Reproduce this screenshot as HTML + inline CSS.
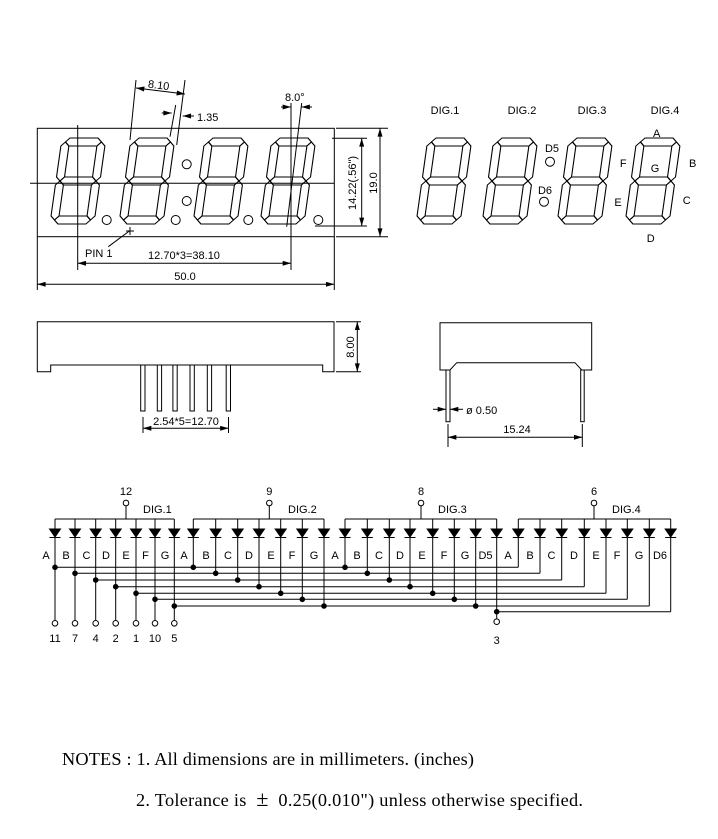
<!DOCTYPE html>
<html><head><meta charset="utf-8"><style>
html,body{margin:0;padding:0;background:#fff;}
svg{display:block;}
text{font-family:"Liberation Sans",sans-serif;fill:#000;}
.n{font-family:"Liberation Serif",serif;font-size:18.3px;}
</style></head><body>
<svg id="s" width="718" height="839" viewBox="0 0 718 839" xmlns="http://www.w3.org/2000/svg">
<defs>
<marker id="ar" viewBox="0 0 10 6" refX="10" refY="3" markerWidth="9" markerHeight="5" markerUnits="userSpaceOnUse" orient="auto-start-reverse"><path d="M0,0L10,3L0,6z" fill="#000"/></marker>
<g id="dg" fill="none" stroke="#000" stroke-width="1.1" stroke-linejoin="round">
<polygon points="4,4 8,0 36,0 40,4 36,8 8,8"/>
<polygon points="4,43 8,39 36,39 40,43 36,47 8,47"/>
<polygon points="4,82 8,78 36,78 40,82 36,86 8,86"/>
<polygon points="4,4 8,8 8,39 4,43 0,39 0,8"/>
<polygon points="40,4 44,8 44,39 40,43 36,39 36,8"/>
<polygon points="4,43 8,47 8,78 4,82 0,78 0,47"/>
<polygon points="40,43 44,47 44,78 40,82 36,78 36,47"/>
</g>
</defs>
<g fill="none" stroke="#000" stroke-width="1">
<rect x="37.3" y="128.3" width="297" height="108.4"/>
<line x1="30" y1="183.3" x2="334" y2="183.3"/>
<line x1="77.7" y1="125" x2="77.7" y2="270"/>
<line x1="291" y1="103" x2="291" y2="270"/>
<line x1="286.7" y1="226.7" x2="301.7" y2="103"/>
<line x1="37.3" y1="237" x2="37.3" y2="290"/>
<line x1="334.3" y1="237" x2="334.3" y2="290"/>
<line x1="37.3" y1="284.3" x2="334.3" y2="284.3" marker-start="url(#ar)" marker-end="url(#ar)"/>
<line x1="77.7" y1="263.3" x2="291" y2="263.3" marker-start="url(#ar)" marker-end="url(#ar)"/>
<line x1="336" y1="128.3" x2="388" y2="128.3"/>
<line x1="336" y1="236.7" x2="388" y2="236.7"/>
<line x1="380" y1="128.3" x2="380" y2="236.7" marker-start="url(#ar)" marker-end="url(#ar)"/>
<line x1="332" y1="138.3" x2="367" y2="138.3"/>
<line x1="315" y1="226" x2="367" y2="226"/>
<line x1="361.7" y1="138.3" x2="361.7" y2="226" marker-start="url(#ar)" marker-end="url(#ar)"/>
<line x1="130" y1="140" x2="136" y2="80"/>
<line x1="176.7" y1="145" x2="185" y2="80"/>
<line x1="136" y1="88" x2="185" y2="94" marker-start="url(#ar)" marker-end="url(#ar)"/>
<line x1="170" y1="136.7" x2="175.7" y2="105"/>
<line x1="161.7" y1="113" x2="171.7" y2="113" marker-end="url(#ar)"/>
<line x1="194" y1="116" x2="182.7" y2="116" marker-end="url(#ar)"/>
<line x1="281" y1="107" x2="291" y2="107" marker-end="url(#ar)"/>
<line x1="312" y1="107" x2="301.5" y2="107" marker-end="url(#ar)"/>
<line x1="108.3" y1="246.7" x2="130" y2="230.5"/>
<line x1="126" y1="231" x2="134" y2="231"/><line x1="130" y1="227" x2="130" y2="235"/>
<circle cx="186.7" cy="164.3" r="4.5"/><circle cx="186.7" cy="201" r="4.5"/>
<circle cx="106.7" cy="220" r="4.5"/><circle cx="175.7" cy="220" r="4.5"/>
<circle cx="248.3" cy="220" r="4.5"/><circle cx="318.3" cy="220" r="4.5"/>
<circle cx="550" cy="161.7" r="4.5"/><circle cx="544" cy="201.7" r="4.5"/>
<path d="M37.3,321.7H334V371.7H322.7V365H50.7V371.7H37.3Z"/>
<rect x="140.7" y="365" width="4.3" height="46"/>
<rect x="157.3" y="365" width="4.3" height="46"/>
<rect x="172.9" y="365" width="4.3" height="46"/>
<rect x="190" y="365" width="4.3" height="46"/>
<rect x="207.3" y="365" width="4.3" height="46"/>
<rect x="226.2" y="365" width="4.3" height="46"/>
<line x1="143" y1="417" x2="143" y2="433"/><line x1="228.5" y1="417" x2="228.5" y2="433"/>
<line x1="143" y1="428.3" x2="228.5" y2="428.3" marker-start="url(#ar)" marker-end="url(#ar)"/>
<line x1="336" y1="321.7" x2="361" y2="321.7"/><line x1="336" y1="371.7" x2="361" y2="371.7"/>
<line x1="357.3" y1="321.7" x2="357.3" y2="371.7" marker-start="url(#ar)" marker-end="url(#ar)"/>
<path d="M440,322.7H591.7V370H581.7L575,362.7H456.7L450,370H440Z"/>
<rect x="446" y="370" width="4" height="51.7"/>
<rect x="580.7" y="370" width="3.5" height="51.7"/>
<line x1="433" y1="409.3" x2="446" y2="409.3" marker-end="url(#ar)"/>
<line x1="463" y1="409.3" x2="450" y2="409.3" marker-end="url(#ar)"/>
<line x1="448" y1="424" x2="448" y2="447"/><line x1="582.3" y1="424" x2="582.3" y2="447"/>
<line x1="448" y1="437.3" x2="582.3" y2="437.3" marker-start="url(#ar)" marker-end="url(#ar)"/>
</g>
<use href="#dg" transform="translate(62,138) skewX(-8)"/>
<use href="#dg" transform="translate(131,138) skewX(-8)"/>
<use href="#dg" transform="translate(205,138) skewX(-8)"/>
<use href="#dg" transform="translate(272,138) skewX(-8)"/>
<use href="#dg" transform="translate(428,138) skewX(-8)"/>
<use href="#dg" transform="translate(494,138) skewX(-8)"/>
<use href="#dg" transform="translate(569,138) skewX(-8)"/>
<use href="#dg" transform="translate(637,138) skewX(-8)"/>
<g font-size="11">
<text x="148" y="89" transform="rotate(7 160 85)">8.10</text>
<text x="197" y="121">1.35</text>
<text x="285" y="101">8.0°</text>
<text x="85" y="257">PIN 1</text>
<text x="184" y="259" text-anchor="middle">12.70*3=38.10</text>
<text x="185" y="280" text-anchor="middle">50.0</text>
<text transform="translate(377,183) rotate(-90)" text-anchor="middle">19.0</text>
<text transform="translate(356,183) rotate(-90)" text-anchor="middle">14.22(.56")</text>
<text transform="translate(354,347) rotate(-90)" text-anchor="middle">8.00</text>
<text x="186" y="425" text-anchor="middle">2.54*5=12.70</text>
<text x="466" y="414">ø 0.50</text>
<text x="517" y="433" text-anchor="middle">15.24</text>
<text x="445" y="114" text-anchor="middle">DIG.1</text>
<text x="522" y="114" text-anchor="middle">DIG.2</text>
<text x="592" y="114" text-anchor="middle">DIG.3</text>
<text x="665" y="114" text-anchor="middle">DIG.4</text>
<text x="552" y="152" text-anchor="middle">D5</text>
<text x="545" y="194" text-anchor="middle">D6</text>
<text x="656.7" y="137" text-anchor="middle">A</text>
<text x="692.7" y="167" text-anchor="middle">B</text>
<text x="686.7" y="204" text-anchor="middle">C</text>
<text x="650.7" y="242" text-anchor="middle">D</text>
<text x="618" y="206" text-anchor="middle">E</text>
<text x="623.3" y="167" text-anchor="middle">F</text>
<text x="655" y="172" text-anchor="middle">G</text>
<text x="126" y="495" text-anchor="middle">12</text>
<text x="269.3" y="495" text-anchor="middle">9</text>
<text x="421" y="495" text-anchor="middle">8</text>
<text x="594" y="495" text-anchor="middle">6</text>
<text x="143" y="513">DIG.1</text>
<text x="288" y="513">DIG.2</text>
<text x="438" y="513">DIG.3</text>
<text x="612" y="513">DIG.4</text>
<g text-anchor="middle">
<text x="46" y="559">A</text><text x="66" y="559">B</text><text x="86.5" y="559">C</text><text x="106" y="559">D</text><text x="126" y="559">E</text><text x="145.5" y="559">F</text><text x="165" y="559">G</text>
<text x="184" y="559">A</text><text x="206" y="559">B</text><text x="228" y="559">C</text><text x="249" y="559">D</text><text x="271" y="559">E</text><text x="292" y="559">F</text><text x="314" y="559">G</text>
<text x="335" y="559">A</text><text x="357" y="559">B</text><text x="379" y="559">C</text><text x="400" y="559">D</text><text x="422" y="559">E</text><text x="444" y="559">F</text><text x="465" y="559">G</text><text x="485.5" y="559">D5</text>
<text x="508" y="559">A</text><text x="530" y="559">B</text><text x="551.5" y="559">C</text><text x="574" y="559">D</text><text x="596" y="559">E</text><text x="617" y="559">F</text><text x="639" y="559">G</text><text x="660" y="559">D6</text>
<text x="55" y="642">11</text><text x="75" y="642">7</text><text x="95.7" y="642">4</text><text x="115.7" y="642">2</text><text x="136" y="642">1</text><text x="155" y="642">10</text><text x="174.3" y="642">5</text>
<text x="496.7" y="644">3</text>
</g>
</g>
<text class="n" x="62" y="765" textLength="412" lengthAdjust="spacing">NOTES : 1. All dimensions are in millimeters. (inches)</text>
<text class="n" x="136" y="806" textLength="447" lengthAdjust="spacing" xml:space="preserve">2. Tolerance is  <tspan font-size="22">±</tspan>  0.25(0.010") unless otherwise specified.</text>
<g id="sch" stroke="#000" stroke-width="1" fill="none"></g>
</svg>
<script>
(function(){
var g=document.getElementById('sch'),NS='http://www.w3.org/2000/svg';
function el(t,a){var e=document.createElementNS(NS,t);for(var k in a)e.setAttribute(k,a[k]);g.appendChild(e);return e;}
function L(a,b,c,d){el('line',{x1:a,y1:b,x2:c,y2:d});}
function dot(x,y){el('circle',{cx:x,cy:y,r:2.3,fill:'#000'});}
function pin(x,y){el('circle',{cx:x,cy:y,r:2.8,fill:'#fff'});}
var c1=[55,75,95.7,115.7,136,155,174.3],c2=[193.3,215.7,237.7,259,280.7,302.3,324],
c3=[345,367.3,389.3,410,432.7,454.3,475.7,496.7],c4=[518.3,540,561.7,584.3,606,627.3,649.3,670.7];
var R=[567.3,573.3,580,586.7,593.3,599.3,606,611.7];
var bus=519;
var groups=[[c1,126],[c2,269.3],[c3,421],[c4,594]];
groups.forEach(function(gr){var c=gr[0];L(c[0],bus,c[c.length-1],bus);L(gr[1],bus,gr[1],506);pin(gr[1],503);
c.forEach(function(x){el('path',{d:'M'+(x-5.5)+',529L'+(x+5.5)+',529L'+x+',537Z',fill:'#000'});L(x-5.5,537.5,x+5.5,537.5);});});
for(var i=0;i<7;i++){
 L(c1[i],bus,c1[i],620);pin(c1[i],623.3);dot(c1[i],R[i]);
 L(c2[i],bus,c2[i],R[i]);dot(c2[i],R[i]);
 L(c3[i],bus,c3[i],R[i]);dot(c3[i],R[i]);
 L(c4[i],bus,c4[i],R[i]);
 L(c1[i],R[i],c4[i],R[i]);
}
L(c3[7],bus,c3[7],619);dot(c3[7],R[7]);pin(c3[7],621.7);
L(c4[7],bus,c4[7],R[7]);L(c3[7],R[7],c4[7],R[7]);
})();
</script>
</body></html>
